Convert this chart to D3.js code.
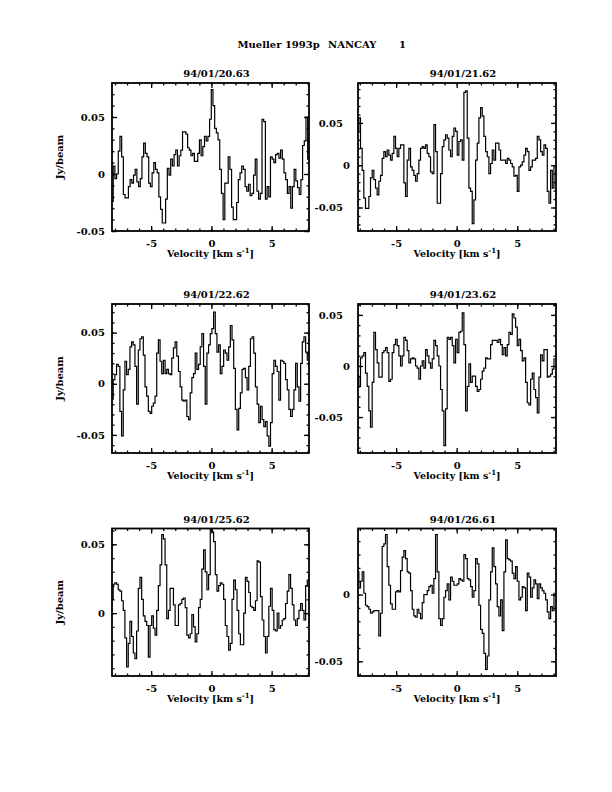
<!DOCTYPE html>
<html>
<head>
<meta charset="utf-8">
<script src="https://cdn.jsdelivr.net/npm/d3@7"></script>
<style>
  body { margin: 0; background: #fff; }
  svg text { font-family: "DejaVu Serif", serif; font-weight: bold; fill: #000; }
</style>
</head>
<body>
<svg id="page" width="612" height="792"></svg>
<script>
// observation dates (panel titles)
const dates = ["94/01/20.63", "94/01/21.62", "94/01/22.62", "94/01/23.62", "94/01/25.62", "94/01/26.61"];

// velocity of first and last channel per panel (km/s)
const chanRange = [[-8.22, 8.06], [-8.15, 8.10], [-8.22, 8.03], [-8.15, 8.10], [-8.22, 8.03], [-8.15, 8.10]];

// plotted axis limits per panel
const xLimits = [[-8.25, 8.1], [-8.15, 8.2], [-8.25, 8.1], [-8.15, 8.2], [-8.25, 8.1], [-8.15, 8.2]];
const yLimits = [[-0.05, 0.0798], [-0.0778, 0.0972], [-0.0677, 0.078], [-0.0852, 0.0607], [-0.0457, 0.0615], [-0.061, 0.0495]];

// flux density per channel (Jy/beam)
const spec1 = [-0.024, 0.007, -0.004, 0.0, 0.02, 0.033, 0.015, -0.018, -0.021, -0.021,
  -0.011, -0.005, -0.008, -0.001, 0.004, -0.007, -0.011, -0.004, 0.015, 0.027,
  0.018, 0.015, -0.008, -0.011, 0.001, 0.01, 0.004, 0.001, -0.02, -0.031,
  -0.043, -0.043, -0.022, 0.005, -0.001, 0.013, 0.007, 0.017, 0.021, 0.007,
  0.016, 0.021, 0.037, 0.037, 0.035, 0.023, 0.021, 0.016, 0.018, 0.011,
  0.011, 0.018, 0.03, 0.016, 0.024, 0.033, 0.029, 0.033, 0.048, 0.074,
  0.06, 0.04, 0.036, 0.03, 0.004, -0.017, -0.04, -0.008, -0.008, 0.015,
  0.004, -0.029, -0.04, -0.04, -0.025, -0.005, 0.001, 0.007, 0.004, -0.011,
  -0.015, -0.009, -0.019, -0.017, -0.001, 0.013, -0.015, -0.022, -0.017, 0.048,
  0.046, -0.022, -0.011, -0.02, 0.015, 0.013, 0.01, 0.017, 0.018, 0.014,
  0.021, 0.013, 0.001, -0.005, -0.017, -0.011, -0.03, -0.011, 0.004, -0.006,
  -0.012, -0.018, -0.005, 0.025, 0.029, 0.05, 0.013];

const spec2 = [0.04, 0.056, 0.02, -0.006, -0.039, -0.051, -0.051, -0.037, -0.015, -0.006,
  -0.017, -0.027, -0.035, -0.019, -0.012, 0.008, 0.016, 0.01, 0.018, 0.012,
  0.006, 0.014, 0.034, 0.02, 0.01, 0.02, 0.024, 0.024, -0.021, -0.037,
  0.006, 0.02, -0.002, -0.006, -0.012, -0.019, -0.01, 0.006, 0.02, 0.022,
  0.02, 0.024, 0.014, 0.01, -0.008, -0.01, 0.048, 0.016, -0.045, -0.045,
  -0.01, 0.022, 0.03, 0.036, 0.032, 0.018, 0.01, 0.034, 0.044, 0.04,
  0.012, 0.028, 0.03, 0.006, 0.086, 0.088, 0.032, -0.027, -0.031, -0.069,
  -0.041, 0.006, 0.026, 0.056, 0.068, 0.058, 0.034, 0.016, 0.01, -0.01,
  0.002, 0.018, 0.006, 0.026, 0.026, 0.018, 0.006, 0.006, 0.006, 0.002,
  0.008, 0.006, 0.002, -0.002, -0.013, -0.012, -0.031, -0.002, 0.0, 0.004,
  0.012, 0.02, 0.016, -0.006, -0.002, 0.006, 0.006, 0.008, 0.034, 0.03,
  0.016, 0.012, 0.024, 0.02, -0.031, -0.045, -0.006, -0.027, -0.002];

const spec3 = [-0.015, 0.004, 0.009, 0.019, 0.017, -0.027, -0.051, -0.006, 0.022, 0.009,
  0.014, 0.036, 0.041, 0.038, 0.017, -0.02, 0.033, 0.044, 0.046, 0.028,
  -0.003, -0.012, -0.027, -0.029, -0.022, -0.019, -0.012, 0.03, 0.043, 0.022,
  0.01, 0.023, 0.01, 0.014, 0.01, 0.009, 0.025, 0.035, 0.041, 0.027,
  0.012, -0.003, -0.016, -0.017, -0.016, -0.032, -0.035, -0.009, 0.006, 0.01,
  0.03, 0.014, 0.019, 0.036, 0.049, 0.017, -0.02, 0.03, 0.038, 0.049,
  0.054, 0.07, 0.049, 0.031, 0.038, 0.01, 0.017, 0.033, 0.03, 0.023,
  0.036, 0.057, 0.043, 0.015, -0.025, -0.045, -0.024, -0.009, 0.014, 0.015,
  0.006, -0.006, 0.017, 0.044, 0.046, 0.03, -0.003, -0.02, -0.038, -0.022,
  -0.035, -0.042, -0.037, -0.051, -0.061, -0.038, 0.01, 0.023, 0.017, 0.012,
  -0.016, 0.023, 0.022, 0.02, 0.004, -0.006, -0.025, -0.032, -0.025, -0.006,
  0.02, -0.003, -0.017, 0.02, 0.041, 0.046, 0.031, 0.023];

const spec4 = [-0.01, -0.02, 0.008, 0.01, 0.013, -0.007, -0.02, -0.044, -0.06, -0.016,
  0.033, 0.016, 0.003, -0.011, -0.011, 0.013, 0.015, 0.018, 0.013, -0.015,
  -0.013, 0.013, 0.021, 0.026, 0.02, 0.01, 0.0, 0.01, 0.028, 0.025,
  0.015, 0.003, 0.007, 0.008, 0.007, 0.0, -0.002, -0.013, 0.0, 0.005,
  -0.002, 0.016, 0.01, 0.003, -0.002, 0.007, 0.025, 0.02, 0.01, 0.0,
  -0.023, -0.044, -0.078, -0.042, 0.028, 0.026, 0.028, 0.02, 0.003, 0.026,
  0.013, 0.033, 0.034, 0.052, 0.021, -0.044, -0.02, 0.002, -0.016, -0.01,
  -0.01, -0.02, -0.025, -0.023, -0.013, -0.005, -0.002, 0.008, 0.007, 0.007,
  0.021, 0.025, 0.025, 0.025, 0.023, 0.026, 0.021, 0.011, 0.018, 0.01,
  0.021, 0.033, 0.031, 0.051, 0.047, 0.038, 0.02, 0.026, 0.015, 0.005,
  0.008, -0.016, -0.036, -0.038, -0.013, -0.007, -0.023, -0.031, -0.046, -0.011,
  0.011, 0.005, 0.016, 0.016, -0.011, -0.01, -0.008, -0.003, 0.007];

const spec5 = [0.01, 0.021, 0.022, 0.021, 0.017, 0.016, 0.009, 0.002, -0.018, -0.039,
  -0.022, -0.006, -0.017, -0.029, -0.033, -0.013, 0.018, 0.026, 0.01, -0.002,
  -0.006, -0.009, -0.032, -0.009, -0.002, -0.011, -0.016, 0.002, 0.02, 0.035,
  0.057, 0.054, 0.035, -0.004, 0.002, 0.018, 0.018, 0.006, -0.009, -0.009,
  0.006, 0.007, 0.01, 0.011, 0.004, -0.016, -0.018, -0.015, -0.001, -0.01,
  -0.021, -0.015, 0.004, 0.01, 0.032, 0.046, 0.03, 0.017, 0.028, 0.061,
  0.059, 0.052, 0.028, 0.016, 0.02, 0.022, 0.021, 0.01, -0.009, -0.017,
  -0.027, -0.022, 0.01, 0.024, 0.017, 0.002, -0.015, -0.023, -0.023, 0.0,
  0.026, 0.023, 0.015, 0.005, 0.004, 0.002, 0.009, 0.038, 0.037, 0.012,
  -0.005, -0.017, -0.029, -0.017, 0.005, 0.018, 0.002, -0.012, -0.013, 0.0,
  -0.011, -0.009, -0.005, -0.004, 0.007, 0.016, 0.028, 0.018, 0.006, -0.005,
  -0.009, -0.004, 0.002, 0.007, 0.002, -0.005, 0.02, 0.024];

const spec6 = [0.017, 0.005, 0.01, 0.017, 0.001, -0.008, -0.009, -0.011, -0.014, -0.013,
  -0.012, -0.012, -0.012, -0.031, -0.014, 0.036, 0.038, 0.045, 0.021, 0.007,
  -0.007, -0.011, -0.011, 0.002, 0.003, 0.002, 0.018, 0.028, 0.033, 0.027,
  0.017, 0.016, 0.003, -0.011, -0.016, -0.017, -0.011, -0.014, -0.018, -0.006,
  0.0, 0.0, 0.003, 0.006, 0.007, 0.001, 0.012, 0.045, 0.017, -0.018,
  -0.023, -0.018, -0.002, 0.003, 0.008, -0.004, 0.013, 0.01, 0.007, 0.007,
  0.008, 0.012, 0.011, 0.01, 0.03, 0.027, 0.012, 0.011, 0.006, -0.002,
  0.003, 0.027, 0.023, -0.008, -0.026, -0.029, -0.044, -0.056, -0.046, -0.004,
  0.017, 0.035, 0.021, 0.008, -0.009, -0.016, -0.004, -0.027, 0.017, 0.041,
  0.027, 0.026, 0.025, 0.016, 0.012, 0.021, 0.01, -0.004, -0.002, 0.006,
  0.005, -0.012, 0.016, 0.013, -0.002, 0.005, 0.011, 0.008, -0.003, 0.008,
  0.005, 0.003, 0.001, -0.004, -0.013, -0.018, -0.009, -0.012, 0.001];

const spectra = [spec1, spec2, spec3, spec4, spec5, spec6];

// page layout: frame boxes for the 3x2 grid
const colX = [[112, 309], [358, 556]];
const rowY = [[83, 231], [304, 453], [528.5, 676]];

const svg = d3.select("#page");

// main title
const title = svg.append("g").attr("font-size", 10);
title.append("text").attr("x", 237.5).attr("y", 48).text("Mueller 1993p");
title.append("text").attr("x", 328).attr("y", 48).text("NANCAY");
title.append("text").attr("x", 399).attr("y", 48).text("1");

function yFmt(d) {
  if (Math.abs(d) < 1e-9) return "0";
  return String(+d.toFixed(2));
}

spectra.forEach((spec, k) => {
  const col = k % 2;
  const row = Math.floor(k / 2);
  const [x0, x1] = colX[col];
  const [y0, y1] = rowY[row];

  const x = d3.scaleLinear().domain(xLimits[k]).range([x0, x1]);
  const y = d3.scaleLinear().domain(yLimits[k]).range([y1, y0]);

  const g = svg.append("g").attr("class", "panel");

  const clipId = "clip" + k;
  g.append("clipPath").attr("id", clipId)
    .append("rect").attr("x", x0).attr("y", y0).attr("width", x1 - x0).attr("height", y1 - y0);

  // channel velocities
  const [va, vb] = chanRange[k];
  const step = (vb - va) / (spec.length - 1);
  const pts = spec.map((v, i) => [va + i * step, v]);

  const line = d3.line()
    .x((d) => x(d[0]))
    .y((d) => y(d[1]))
    .curve(d3.curveStep);

  g.append("path")
    .attr("d", line(pts))
    .attr("clip-path", `url(#${clipId})`)
    .attr("fill", "none")
    .attr("stroke", "#000")
    .attr("stroke-width", 1.2);

  // tick values
  const [xa, xb] = xLimits[k];
  const xMinor = d3.range(Math.ceil(xa), Math.floor(xb) + 1);
  const xMajor = xMinor.filter((d) => d % 5 === 0);
  const [ya, yb] = yLimits[k];
  const yMinor = d3.range(Math.ceil(ya / 0.01 - 1e-6), Math.floor(yb / 0.01 + 1e-6) + 1).map((i) => i * 0.01);
  const yMajor = yMinor.filter((d) => Math.abs(Math.round(d / 0.05) * 0.05 - d) < 1e-6);

  const axes = g.append("g").attr("font-size", 9.5);

  // bottom
  axes.append("g").attr("transform", `translate(0,${y1})`)
    .call(d3.axisBottom(x).tickValues(xMinor).tickSize(-2.5).tickFormat(""));
  axes.append("g").attr("class", "xlab").attr("transform", `translate(0,${y1})`)
    .call(d3.axisBottom(x).tickValues(xMajor).tickSize(-5).tickPadding(7).tickFormat((d) => String(d)));
  // top
  axes.append("g").attr("transform", `translate(0,${y0})`)
    .call(d3.axisTop(x).tickValues(xMinor).tickSize(-2.5).tickFormat(""));
  axes.append("g").attr("transform", `translate(0,${y0})`)
    .call(d3.axisTop(x).tickValues(xMajor).tickSize(-5).tickFormat(""));
  // left
  axes.append("g").attr("transform", `translate(${x0},0)`)
    .call(d3.axisLeft(y).tickValues(yMinor).tickSize(-2.5).tickFormat(""));
  const yl = axes.append("g").attr("class", "ylab").attr("transform", `translate(${x0},0)`)
    .call(d3.axisLeft(y).tickValues(yMajor).tickSize(-5).tickPadding(7).tickFormat(yFmt));
  if (col === 1) {
    yl.selectAll("text").attr("dx", (d) => (Math.abs(d) < 1e-9 ? -1 : -8));
  }
  // right
  axes.append("g").attr("transform", `translate(${x1},0)`)
    .call(d3.axisRight(y).tickValues(yMinor).tickSize(-2.5).tickFormat(""));
  axes.append("g").attr("transform", `translate(${x1},0)`)
    .call(d3.axisRight(y).tickValues(yMajor).tickSize(-5).tickFormat(""));

  axes.selectAll(".domain").remove();
  axes.selectAll(".tick line").attr("stroke", "#000").attr("stroke-width", 1.3);
  axes.selectAll(".tick text").attr("fill", "#000")
    .style("font-family", '"DejaVu Serif", serif').style("font-weight", "bold");
  axes.select(".xlab").selectAll("text").attr("dy", "0.9em");

  // frame
  g.append("rect")
    .attr("x", x0).attr("y", y0)
    .attr("width", x1 - x0).attr("height", y1 - y0)
    .attr("fill", "none").attr("stroke", "#000").attr("stroke-width", 1.8);

  // panel title
  g.append("text")
    .attr("x", (x0 + x1) / 2 + 6).attr("y", y0 - 6)
    .attr("text-anchor", "middle").attr("font-size", 10)
    .text(dates[k]);

  // x label
  const xl = g.append("text")
    .attr("x", (x0 + x1) / 2).attr("y", y1 + 25.5)
    .attr("text-anchor", "middle").attr("font-size", 9.5);
  xl.append("tspan").text("Velocity [km s");
  xl.append("tspan").attr("font-size", 7).attr("dy", -4).text("-1");
  xl.append("tspan").attr("dy", 4).text("]");

  // y label on the left column only
  if (col === 0) {
    const cy = (y0 + y1) / 2;
    g.append("text")
      .attr("transform", `translate(63,${cy}) rotate(-90)`)
      .attr("text-anchor", "middle").attr("font-size", 10)
      .text("Jy/beam");
  }
});
</script>
</body>
</html>
